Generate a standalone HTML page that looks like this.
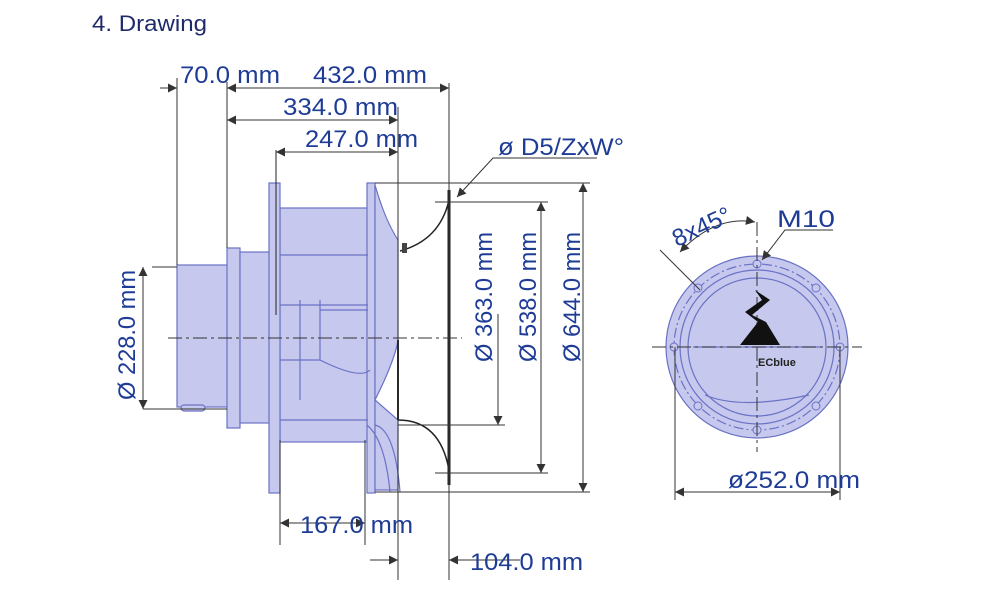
<!DOCTYPE html>
<html><head><meta charset="utf-8"><style>
html,body{margin:0;padding:0;background:#fff;}
svg{display:block;font-family:"Liberation Sans",Arial,sans-serif;}
.t{fill:#1e3c96;font-size:24px;}
.d{stroke:#333;stroke-width:1;fill:none;}
.f{fill:#c6c8ee;stroke:#6a72c4;stroke-width:1.2;}
.o{fill:none;stroke:#6a72c4;stroke-width:1.2;}
</style></head><body>
<svg width="1000" height="602" viewBox="0 0 1000 602">
<defs>
<marker id="a" viewBox="0 0 10 10" refX="10" refY="5" markerWidth="17" markerHeight="9" orient="auto-start-reverse" markerUnits="userSpaceOnUse"><path d="M0,0L10,5L0,10z" fill="#333"/></marker>
</defs>
<text x="92" y="31" style="font-size:22px;fill:#1f2a6b" textLength="115" lengthAdjust="spacingAndGlyphs">4.  Drawing</text>

<rect class="f" x="177" y="265" width="52" height="142"/>
<rect class="f" x="227" y="248" width="13" height="180"/>
<rect class="f" x="240" y="252" width="37" height="171"/>
<rect class="f" x="280" y="208" width="88" height="234"/>
<rect class="f" x="269" y="183" width="11" height="310"/>
<rect class="f" x="367" y="183" width="8" height="310"/>
<path class="f" d="M375,185 L375,490 L398,490 L398,420 L375,400 Q395,360 398,340 L398,240 Q385,220 375,185z"/>
<path class="o" d="M280,255 L368,255 M280,305 L368,305 M280,360 L320,360 M280,420 L368,420 M300,300 L300,400 M320,300 L320,360 M320,360 Q360,380 370,370 M320,310 L368,310"/>
<path class="o" d="M375,425 Q395,430 400,492 M367,425 Q385,440 390,492"/>
<rect x="181" y="405" width="24" height="6" rx="3" class="f"/>
<path d="M449,190 L449,485" stroke="#222" stroke-width="3"/>
<path d="M400,251 Q440,240 449,200 M398,420 Q440,420 449,470" stroke="#222" stroke-width="1.5" fill="none"/>
<path d="M398,340 L398,420" stroke="#222" stroke-width="2"/>
<rect x="402" y="243" width="5" height="10" fill="#444"/>
<path d="M168,338 L462,338" stroke="#333" stroke-dasharray="14,4,3,4"/>
<path d="M276,150 L276,315" stroke="#222"/>

<path class="d" d="M177,78 L177,265 M227,82 L227,248 M449,83 L449,580 M398,107 L398,580 M280,440 L280,545 M365,440 L365,545 M375,183 L590,183 M435,202 L548,202 M435,473 L548,473 M375,492 L590,492 M398,425 L505,425 M152,267 L177,267 M143,409 L227,409"/>
<path class="d" d="M160,88 L177,88" marker-end="url(#a)"/>
<path class="d" d="M227,88 L449,88" marker-start="url(#a)" marker-end="url(#a)"/>
<path class="d" d="M227,120 L398,120" marker-start="url(#a)" marker-end="url(#a)"/>
<path class="d" d="M276,152 L398,152" marker-start="url(#a)" marker-end="url(#a)"/>
<path class="d" d="M280,523 L365,523" marker-start="url(#a)" marker-end="url(#a)"/>
<path class="d" d="M370,560 L398,560" marker-end="url(#a)"/>
<path class="d" d="M520,560 L449,560" marker-end="url(#a)"/>
<path class="d" d="M143,267 L143,409" marker-start="url(#a)" marker-end="url(#a)"/>
<path class="d" d="M498,314 L498,425" marker-end="url(#a)"/>
<path class="d" d="M541,202 L541,473" marker-start="url(#a)" marker-end="url(#a)"/>
<path class="d" d="M583,183 L583,492" marker-start="url(#a)" marker-end="url(#a)"/>
<path class="d" d="M597,158 L493,158 L457,197" marker-end="url(#a)"/>

<text class="t" x="180" y="83" textLength="100" lengthAdjust="spacingAndGlyphs">70.0 mm</text>
<text class="t" x="313" y="83" textLength="114" lengthAdjust="spacingAndGlyphs">432.0 mm</text>
<text class="t" x="283" y="115" textLength="115" lengthAdjust="spacingAndGlyphs">334.0 mm</text>
<text class="t" x="305" y="147" textLength="113" lengthAdjust="spacingAndGlyphs">247.0 mm</text>
<text class="t" x="498" y="155" textLength="126" lengthAdjust="spacingAndGlyphs">ø D5/ZxW°</text>
<text class="t" x="300" y="533" textLength="113" lengthAdjust="spacingAndGlyphs">167.0 mm</text>
<text class="t" x="470" y="570" textLength="113" lengthAdjust="spacingAndGlyphs">104.0 mm</text>
<text class="t" transform="translate(135,335) rotate(-90)" text-anchor="middle" textLength="130" lengthAdjust="spacingAndGlyphs">Ø 228.0 mm</text>
<text class="t" transform="translate(492,297) rotate(-90)" text-anchor="middle" textLength="130" lengthAdjust="spacingAndGlyphs">Ø 363.0 mm</text>
<text class="t" transform="translate(536,297) rotate(-90)" text-anchor="middle" textLength="130" lengthAdjust="spacingAndGlyphs">Ø 538.0 mm</text>
<text class="t" transform="translate(580,297) rotate(-90)" text-anchor="middle" textLength="130" lengthAdjust="spacingAndGlyphs">Ø 644.0 mm</text>

<circle cx="757" cy="347" r="91" class="f"/>
<circle cx="757" cy="347" r="83" class="o" stroke-dasharray="10,3,2,3"/>
<circle cx="757" cy="347" r="77" class="o"/>
<circle cx="757" cy="347" r="69" class="o"/>
<path class="o" d="M693,347 L821,347 M705,395 Q740,410 809,395"/>
<g fill="#c6c8ee" stroke="#6a72c4">
<circle cx="757" cy="264" r="4"/><circle cx="757" cy="430" r="4"/>
<circle cx="674" cy="347" r="4"/><circle cx="840" cy="347" r="4"/>
<circle cx="698" cy="288" r="4"/><circle cx="816" cy="288" r="4"/>
<circle cx="698" cy="406" r="4"/><circle cx="816" cy="406" r="4"/>
</g>
<path d="M652,347 L862,347 M757,222 L757,452" stroke="#333" stroke-dasharray="14,4,3,4"/>
<path d="M755,290 L770,300 L752,315 L766,322 L780,345 L740,345 L758,322 L745,312 L762,300z" fill="#111"/>
<text x="758" y="366" style="font-size:11px;font-weight:bold;fill:#222">ECblue</text>
<path class="d" d="M660,250 L700,290 M675,347 L675,500 M840,347 L840,500"/>
<path class="d" d="M755,222 Q715,215 680,252" marker-start="url(#a)" marker-end="url(#a)"/>
<path class="d" d="M833,230 L785,230 L762,260" marker-end="url(#a)"/>
<path class="d" d="M675,492 L840,492" marker-start="url(#a)" marker-end="url(#a)"/>
<text class="t" transform="translate(705,234) rotate(-25)" text-anchor="middle" textLength="62" lengthAdjust="spacingAndGlyphs">8x45°</text>
<text class="t" x="777" y="227" textLength="58" lengthAdjust="spacingAndGlyphs">M10</text>
<text class="t" x="728" y="488" textLength="132" lengthAdjust="spacingAndGlyphs">ø252.0 mm</text>
</svg>
</body></html>
